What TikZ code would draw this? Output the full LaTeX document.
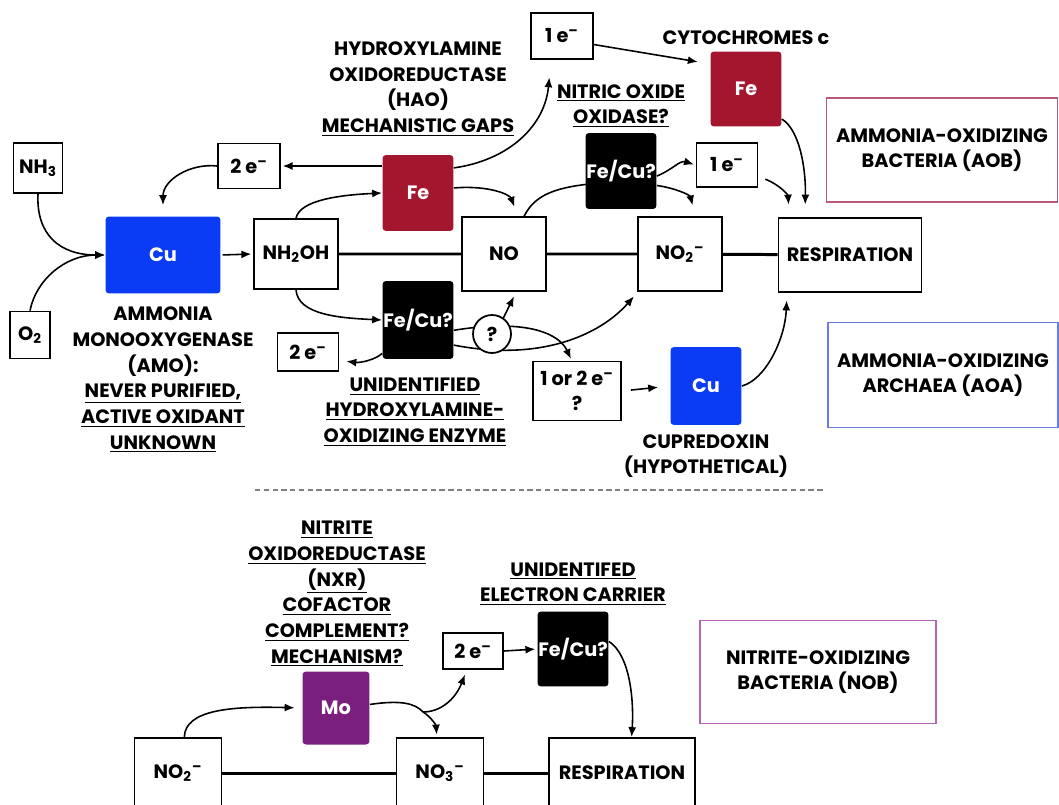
\documentclass[tikz,border=0pt]{standalone}
\usepackage{fontspec}
\setmainfont{Poppins}
\usetikzlibrary{positioning,calc,arrows.meta}
\definecolor{cuBlue}{HTML}{0A3BF5}
\definecolor{feRed}{HTML}{A3162D}
\definecolor{moPurple}{HTML}{7B1F7E}
\definecolor{aobEdge}{HTML}{B85A78}
\definecolor{aoaEdge}{HTML}{6A7BE6}
\definecolor{nobEdge}{HTML}{B464B4}
\newcommand{\lblfont}{\bfseries\fontsize{11}{14.6}\selectfont}
\newcommand{\ulin}[1]{\underline{#1}}
\newcommand{\elec}{e\textsuperscript{\textendash}}
\tikzset{
  box/.style={draw,line width=1pt,fill=white,inner sep=0pt,align=center},
  metal/.style={rounded corners=2pt,text=white,inner sep=0pt},
  arr/.style={-{Latex[length=2mm,width=1.6mm]},line width=0.9pt},
  chain/.style={line width=1.7pt},
  lbl/.style={align=center,inner sep=0pt},
  group/.style={draw,line width=0.8pt,align=center,inner sep=0pt}
}

\begin{document}
\begin{tikzpicture}[x=0.02cm,y=-0.02cm,every node/.append style={font=\lblfont}]
\clip (0,0) rectangle (1059,805);

% ammonia oxidation
\node[box,minimum width=0.98cm,minimum height=1cm] (nh3) at (38,168) {NH\textsubscript{3}};
\node[box,minimum width=0.8cm,minimum height=0.94cm] (o2) at (30,335) {O\textsubscript{2}};
\node[metal,fill=cuBlue,minimum width=2.3cm,minimum height=1.54cm] (amo) at (163,255) {Cu};
\node[box,minimum width=1.68cm,minimum height=1.4cm] (nh2oh) at (296,254) {NH\textsubscript{2}OH};
\node[box,minimum width=1.24cm,minimum height=0.9cm] (etop) at (249,166) {2 \elec};
\node[box,minimum width=1.22cm,minimum height=0.76cm] (ebot) at (308,352) {2 \elec};
\node[metal,fill=feRed,minimum width=1.42cm,minimum height=1.52cm] (hao) at (418,193) {Fe};
\node[box,minimum width=1.24cm,minimum height=0.92cm] (eone) at (562,36) {1 \elec};
\node[box,minimum width=1.68cm,minimum height=1.48cm] (no) at (504,254) {NO};
\node[box,minimum width=1.68cm,minimum height=1.48cm] (no2) at (680,254) {NO\textsubscript{2}\textsuperscript{\textendash}};
\node[box,minimum width=2.86cm,minimum height=1.48cm] (resp) at (850,255) {RESPIRATION};
\node[metal,fill=black,minimum width=1.42cm,minimum height=1.52cm] (nox) at (621,171) {Fe/Cu?};
\node[metal,fill=feRed,minimum width=1.42cm,minimum height=1.5cm] (cyt) at (746,89) {Fe};
\node[box,minimum width=1.22cm,minimum height=0.88cm] (eright) at (727,165) {1 \elec};
\node[metal,fill=black,minimum width=1.42cm,minimum height=1.56cm] (hxo) at (418,320) {Fe/Cu?};
\node[box,minimum width=1.76cm,minimum height=1.18cm] (eq) at (577,391) {1 or 2 \elec\\?};
\node[metal,fill=cuBlue,minimum width=1.42cm,minimum height=1.56cm] (cup) at (706,386) {Cu};

\node[lbl] (lblcyt) at (746,38) {CYTOCHROMES c};
\node[lbl] (lblhao) at (418,89) {HYDROXYLAMINE\\OXIDOREDUCTASE\\(HAO)\\\ulin{MECHANISTIC GAPS}};
\node[lbl] (lblnox) at (621,106) {\ulin{NITRIC OXIDE}\\\ulin{OXIDASE?}};
\node[lbl] (lblamo) at (163,380) {AMMONIA\\MONOOXYGENASE\\(AMO):\\\ulin{NEVER PURIFIED,}\\\ulin{ACTIVE OXIDANT}\\\ulin{UNKNOWN}};
\node[lbl] (lblhxo) at (415,412) {\ulin{UNIDENTIFIED}\\\ulin{HYDROXYLAMINE-}\\\ulin{OXIDIZING ENZYME}};
\node[lbl] (lblcup) at (706,456) {CUPREDOXIN\\(HYPOTHETICAL)};

\node[group,draw=aobEdge,minimum width=4.62cm,minimum height=2.08cm] (aob) at (942,150) {AMMONIA-OXIDIZING\\BACTERIA (AOB)};
\node[group,draw=aoaEdge,minimum width=4.6cm,minimum height=2.1cm] (aoa) at (943,375) {AMMONIA-OXIDIZING\\ARCHAEA (AOA)};

\draw[chain] (nh2oh) -- (no) -- (no2) -- (resp);

\draw[arr] (nh3.south) .. controls (36,235) and (60,255) .. (amo.west);
\draw[arr] (o2.north) .. controls (36,280) and (65,255) .. (amo.west);
\draw[arr,shorten <=1pt,shorten >=1pt] (amo.east) -- (nh2oh.west);
\draw[arr] (nh2oh.north) .. controls (300,200) and (340,195) .. (hao.west);
\draw[arr] (nh2oh.south) .. controls (298,315) and (340,318) .. (hxo.west);
\draw[arr,shorten >=1pt] (hao.west |- etop.east) -- (etop.east);
\draw[arr,shorten >=2.2mm] (etop.west) .. controls (190,163) and (163,180) .. (amo.north);
\draw[arr,shorten >=3.5mm] (hao.35) .. controls (510,160) and (545,125) .. (eone.-115);
\draw[arr,shorten >=2mm] (hao.8) .. controls (490,185) and (510,195) .. (no.70);
\draw[arr,shorten >=2mm] (no.62) .. controls (535,195) and (555,182) .. (nox.-17);
\draw[arr,shorten >=2.5mm] (eone.-15) -- (cyt.145);
\draw[arr,shorten >=1pt] (nox.-8) .. controls (672,170) and (680,160) .. (eright.west);
\draw[arr,shorten >=2.2mm] (nox.-22) .. controls (675,188) and (690,195) .. (no2.68);
\draw[arr,shorten <=1.5mm,shorten >=2.5mm] (eright.-20) .. controls (780,185) and (788,195) .. (resp.148);
\draw[arr,shorten >=2.5mm] (cyt.-40) .. controls (800,130) and (806,170) .. (resp.140);
\draw[arr,shorten >=1.5mm] (cup.east) .. controls (765,380) and (785,340) .. (resp.-149);
\draw[arr,shorten <=1.8mm,shorten >=2.4mm] (eq.east) -- (cup.west);
\draw[arr,shorten >=1.4mm] (hxo.-137) .. controls (375,360) and (360,363) .. (ebot.-15);
\draw[arr,shorten >=1pt] (hxo.-16) .. controls (530,318) and (560,335) .. (eq.100);
\draw[arr,shorten >=1.2mm] (hxo.-35) .. controls (540,362) and (600,335) .. (no2.-138);
\node[box,circle,minimum size=0.76cm] (qm) at (492,334) {?};
\draw[arr,shorten >=1mm] (qm.55) -- (no.-72);

\draw[gray,dashed,line width=0.6pt,dash pattern=on 3pt off 2pt] (255,490) -- (823,490);

% nitrite oxidation
\node[metal,fill=moPurple,minimum width=1.34cm,minimum height=1.46cm] (mo) at (336,708) {Mo};
\node[box,minimum width=1.2cm,minimum height=0.72cm] (eb) at (473,651) {2 \elec};
\node[metal,fill=black,minimum width=1.42cm,minimum height=1.5cm] (fcb) at (573,649) {Fe/Cu?};
\node[box,minimum width=1.74cm,minimum height=1.4cm] (nb2) at (178,773) {NO\textsubscript{2}\textsuperscript{\textendash}};
\node[box,minimum width=1.74cm,minimum height=1.4cm] (no3) at (440,773) {NO\textsubscript{3}\textsuperscript{\textendash}};
\node[box,minimum width=2.92cm,minimum height=1.4cm] (resp2) at (622,773) {RESPIRATION};
\coordinate (fork) at (423,712);

\node[lbl] (lblnxr) at (337,594) {\ulin{NITRITE}\\\ulin{OXIDOREDUCTASE}\\\ulin{(NXR)}\\\ulin{COFACTOR}\\\ulin{COMPLEMENT?}\\\ulin{MECHANISM?}};
\node[lbl] (lblcar) at (573,584) {\ulin{UNIDENTIFED}\\\ulin{ELECTRON CARRIER}};
\node[group,draw=nobEdge,minimum width=4.72cm,minimum height=2.06cm] (nob) at (818,672) {NITRITE-OXIDIZING\\BACTERIA (NOB)};

\draw[chain] (nb2) -- (no3) -- (resp2);
\draw[arr,shorten >=1.5mm] (nb2.80) .. controls (185,710) and (230,706) .. (mo.west);
\draw[line width=0.9pt] (mo.6) .. controls (400,700) and (415,703) .. (fork);
\draw[arr,shorten >=0.5mm] (fork) .. controls (430,716) and (436,725) .. (no3.95);
\draw[arr,shorten >=1mm] (fork) .. controls (440,712) and (455,700) .. (eb.-108);
\draw[arr,shorten >=1pt] (eb.east) -- (fcb.west);
\draw[arr] (fcb.12) .. controls (630,655) and (634,700) .. (resp2.75);
\end{tikzpicture}
\end{document}
